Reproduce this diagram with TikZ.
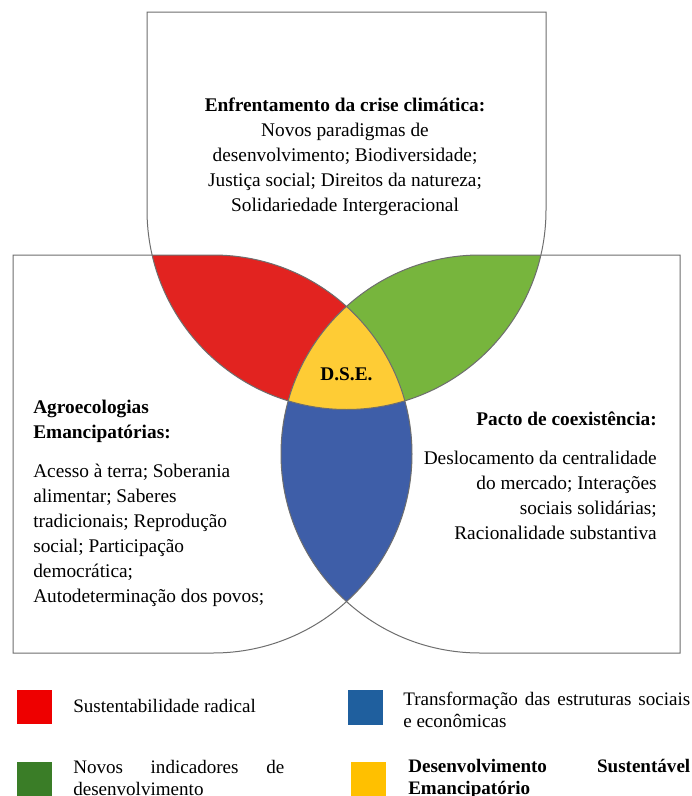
\documentclass[tikz,border=0pt]{standalone}
\usepackage{fontspec}
\setmainfont{Liberation Serif}
\definecolor{linegray}{HTML}{6E6E6E}
\definecolor{regred}{HTML}{E22320}
\definecolor{reggreen}{HTML}{77B53D}
\definecolor{regblue}{HTML}{3E5EA8}
\definecolor{regyellow}{HTML}{FECC35}
\definecolor{legred}{HTML}{EE0000}
\definecolor{legblue}{HTML}{1F5F9E}
\definecolor{leggreen}{HTML}{3A7D27}
\definecolor{legyellow}{HTML}{FFC000}
\begin{document}
\begin{tikzpicture}[x=0.75pt,y=-0.75pt,
  shapeline/.style={draw=linegray, line width=0.75pt},
  txt/.style={inner sep=0pt, font=\fontsize{14.5}{18.75}\selectfont},
  legtxt/.style={inner sep=0pt, font=\fontsize{14.3}{16.9}\selectfont},
  legbox/.style={draw=none}]
\useasboundingbox (0,0) rectangle (692,796);
\fill[white] (0,0) rectangle (692,796);
% red: top and left
\begin{scope}
\clip (147,12) -- (546,12) -- (546,210) arc[start angle=0,end angle=180,radius=199.5] -- cycle;
\clip (13,255) -- (213,255) arc[start angle=-90,end angle=90,radius=199] -- (13,653) -- cycle;
\fill[regred] (0,0) rectangle (692,796);
\end{scope}
% green: top and right
\begin{scope}
\clip (147,12) -- (546,12) -- (546,210) arc[start angle=0,end angle=180,radius=199.5] -- cycle;
\clip (680,255) -- (480,255) arc[start angle=-90,end angle=-270,radius=199] -- (680,653) -- cycle;
\fill[reggreen] (0,0) rectangle (692,796);
\end{scope}
% blue: left and right
\begin{scope}
\clip (13,255) -- (213,255) arc[start angle=-90,end angle=90,radius=199] -- (13,653) -- cycle;
\clip (680,255) -- (480,255) arc[start angle=-90,end angle=-270,radius=199] -- (680,653) -- cycle;
\fill[regblue] (0,0) rectangle (692,796);
\end{scope}
% yellow: all three
\begin{scope}
\clip (147,12) -- (546,12) -- (546,210) arc[start angle=0,end angle=180,radius=199.5] -- cycle;
\clip (13,255) -- (213,255) arc[start angle=-90,end angle=90,radius=199] -- (13,653) -- cycle;
\clip (680,255) -- (480,255) arc[start angle=-90,end angle=-270,radius=199] -- (680,653) -- cycle;
\fill[regyellow] (0,0) rectangle (692,796);
\end{scope}
% outlines
\path[shapeline] (147,12) -- (546,12) -- (546,210) arc[start angle=0,end angle=180,radius=199.5] -- cycle;
\path[shapeline] (13,255) -- (213,255) arc[start angle=-90,end angle=90,radius=199] -- (13,653) -- cycle;
\path[shapeline] (680,255) -- (480,255) arc[start angle=-90,end angle=-270,radius=199] -- (680,653) -- cycle;
% texts
\node[txt, anchor=base] (toptext) at (345,111) {\begin{tabular}[t]{@{}c@{}}\textbf{Enfrentamento da crise climática:}\\ Novos paradigmas de\\ desenvolvimento; Biodiversidade;\\ Justiça social; Direitos da natureza;\\ Solidariedade Intergeracional\end{tabular}};
\node[txt, anchor=base west] (lefttitle) at (33,413) {\begin{tabular}[t]{@{}l@{}}\textbf{Agroecologias}\\ \textbf{Emancipatórias:}\end{tabular}};
\node[txt, anchor=base west] (leftbody) at (33,477) {\begin{tabular}[t]{@{}l@{}}Acesso à terra; Soberania\\ alimentar; Saberes\\ tradicionais; Reprodução\\ social; Participação\\ democrática;\\ Autodeterminação dos povos;\end{tabular}};
\node[txt, anchor=base east] (righttitle) at (657,425) {\textbf{Pacto de coexistência:}};
\node[txt, anchor=base east] (rightbody) at (657,464) {\begin{tabular}[t]{@{}r@{}}Deslocamento da centralidade\\ do mercado; Interações\\ sociais solidárias;\\ Racionalidade substantiva\end{tabular}};
\node[txt, font=\fontsize{14.5}{18.75}\selectfont\bfseries] (dse) at (346.5,374) {D.S.E.};
% legend
\fill[legred] (17,690) rectangle (52,724);
\node[legbox] (lred) at (34.5,707) {};
\node[legtxt, anchor=base west] (tred) at (73,712) {Sustentabilidade radical};
\fill[legblue] (348,690) rectangle (383,725);
\node[legbox] (lblue) at (365.5,707) {};
\node[legtxt, anchor=base west] (tblue) at (403,705) {\begin{tabular}[t]{@{}l@{}}\makebox[215.25pt][s]{Transformação das estruturas sociais}\\ e econômicas\end{tabular}};
\fill[leggreen] (17,762) rectangle (52,800);
\node[legbox] (lgreen) at (34.5,780) {};
\node[legtxt, anchor=base west] (tgreen) at (73,773) {\begin{tabular}[t]{@{}l@{}}\makebox[158.25pt][s]{Novos indicadores de}\\ desenvolvimento\end{tabular}};
\fill[legyellow] (351,762) rectangle (386,800);
\node[legbox] (lyellow) at (368.5,780) {};
\node[legtxt, anchor=base west] (tyellow) at (408,772) {\begin{tabular}[t]{@{}l@{}}\makebox[211.5pt][s]{\bfseries Desenvolvimento Sustentável}\\ \textbf{Emancipatório}\end{tabular}};
\end{tikzpicture}
\end{document}
